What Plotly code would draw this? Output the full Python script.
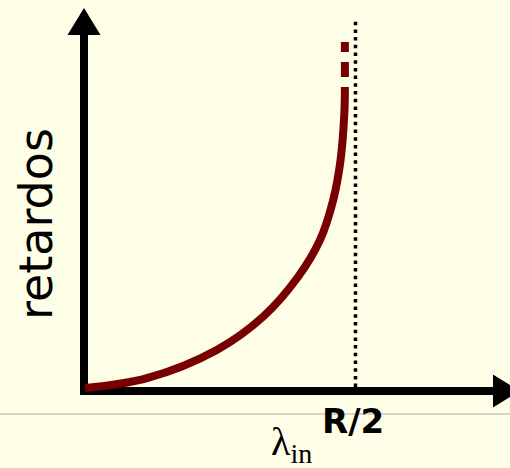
import plotly.graph_objects as go

# --- data (x: lambda_in as a fraction of R/2, y: delay in arbitrary units) ---
lam_in = [0.004, 0.232, 0.489, 0.660, 0.788, 0.869, 0.918, 0.945, 0.959, 0.961]
delay = [0.10, 0.43, 1.37, 2.48, 3.80, 5.03, 6.37, 7.70, 9.27, 10.13]
# divergent continuation (dashed)
lam_div = [0.961, 0.961]
delay_div = [10.47, 11.63]
# capacity limit
limit_x = 1.0
limit_y = [0.13, 12.37]
x_label = "λ<sub>in</sub>"
y_label = "retardos"
limit_label = "<b>R/2</b>"

X_RANGE = [-0.3094, 1.5691]
Y_RANGE = [-2.5667, 13.0333]
X_AXIS_END = 1.5064
Y_AXIS_END = 11.87

BG = "#FEFDE5"
RED = "#780000"

fig = go.Figure()

# axes lines
fig.add_trace(go.Scatter(x=[0, 0], y=[-0.13, Y_AXIS_END], mode="lines",
                         line=dict(color="black", width=8), hoverinfo="skip"))
fig.add_trace(go.Scatter(x=[-0.0147, X_AXIS_END], y=[0, 0], mode="lines",
                         line=dict(color="black", width=8), hoverinfo="skip"))

# limit dotted line
fig.add_trace(go.Scatter(x=[limit_x, limit_x], y=limit_y, mode="lines",
                         line=dict(color="black", width=3.5, dash="3.5px,4.2px"),
                         hoverinfo="skip"))

# curve
fig.add_trace(go.Scatter(x=lam_in, y=delay, mode="lines",
                         line=dict(color=RED, width=8, shape="spline", smoothing=1.0),
                         cliponaxis=False))
fig.add_trace(go.Scatter(x=lam_div, y=delay_div, mode="lines",
                         line=dict(color=RED, width=8, dash="15px,10px")))

# arrow heads (pixel-sized shapes)
fig.add_shape(type="path", xref="x", yref="y", xsizemode="pixel", ysizemode="pixel",
              xanchor=0, yanchor=Y_AXIS_END, path="M-16.5,0 L16.5,0 L0,27 Z",
              fillcolor="black", line=dict(width=0))
fig.add_shape(type="path", xref="x", yref="y", xsizemode="pixel", ysizemode="pixel",
              xanchor=X_AXIS_END, yanchor=0, path="M0,-16.5 L0,16.5 L27,0 Z",
              fillcolor="black", line=dict(width=0))

# faint horizontal rule
fig.add_shape(type="line", xref="paper", yref="y", x0=0, x1=1, y0=-0.767, y1=-0.767,
              line=dict(color="#ababab", width=1))

# text
fig.add_annotation(x=-0.177, y=5.567, text=y_label, textangle=-90, showarrow=False,
                   font=dict(family="DejaVu Sans", size=46, color="black"))
fig.add_annotation(x=limit_x, y=-1.0, xshift=-2, text=limit_label, showarrow=False,
                   font=dict(family="DejaVu Sans", size=34, color="black"))
fig.add_annotation(x=0.766, y=-1.76, text=x_label, showarrow=False,
                   font=dict(family="Liberation Serif", size=40, color="black"))

fig.update_layout(
    width=510, height=468, margin=dict(l=0, r=0, t=0, b=0),
    paper_bgcolor=BG, plot_bgcolor=BG, showlegend=False,
    xaxis=dict(range=X_RANGE, visible=False, fixedrange=True),
    yaxis=dict(range=Y_RANGE, visible=False, fixedrange=True),
)

fig.write_html("out.html", config={"displayModeBar": False},
               post_script="document.body.style.margin='0px';document.body.style.overflow='hidden';")
